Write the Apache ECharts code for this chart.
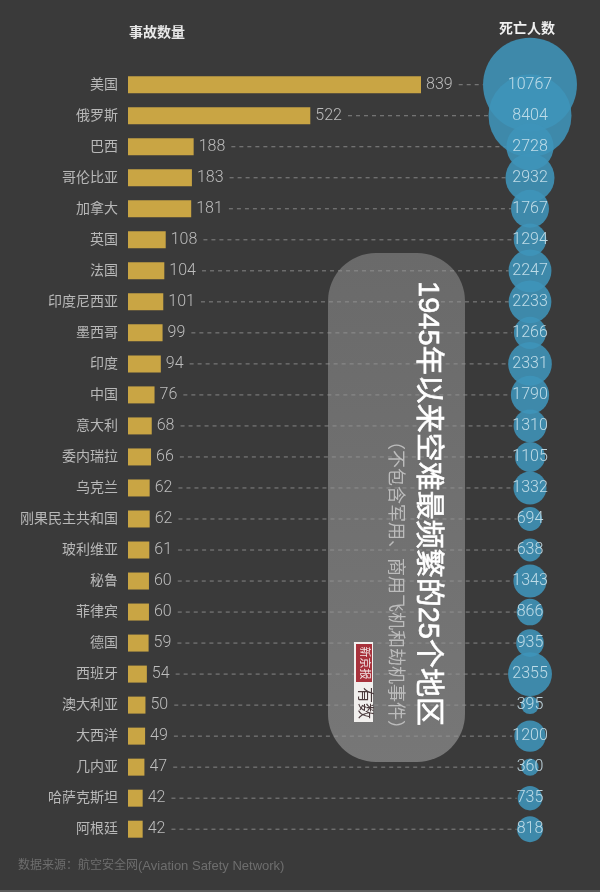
<!DOCTYPE html>
<html>
<head>
<meta charset="utf-8">
<title>1945年以来空难最频繁的25个地区</title>
<script src="https://cdn.jsdelivr.net/npm/echarts@6/dist/echarts.min.js"></script>
<style>
html, body { margin: 0; padding: 0; background: #3a3a3a; }
#main { width: 600px; height: 892px; }
</style>
</head>
<body>
<div id="main"></div>
<script>
var categories = ['美国', '俄罗斯', '巴西', '哥伦比亚', '加拿大', '英国', '法国', '印度尼西亚', '墨西哥', '印度',
    '中国', '意大利', '委内瑞拉', '乌克兰', '刚果民主共和国', '玻利维亚', '秘鲁', '菲律宾', '德国', '西班牙',
    '澳大利亚', '大西洋', '几内亚', '哈萨克斯坦', '阿根廷'];
var accidents = [839, 522, 188, 183, 181, 108, 104, 101, 99, 94, 76, 68, 66, 62, 62, 61, 60, 60, 59, 54, 50, 49, 47, 42, 42];
var deaths = [10767, 8404, 2728, 2932, 1767, 1294, 2247, 2233, 1266, 2331, 1790, 1310, 1105, 1332, 694, 638, 1343, 866, 935, 2355, 395, 1200, 360, 735, 818];
var bubbleColumn = ['死亡人数'];

var FONT = '"Liberation Sans", "Noto Sans CJK SC", sans-serif';
var NUM_FONT = 'Roboto, "Liberation Sans", sans-serif';
var BUBBLE_X = 530;
var DIGIT_W = 8.9; // 16px数字宽度

function bubbleSize(v) {
    return Math.sqrt(v) * 0.905;
}

var barData = [], lineData = [], bubbleData = [];
for (var i = 0; i < categories.length; i++) {
    barData.push(accidents[i]);
    lineData.push([accidents[i], categories[i], deaths[i]]);
    bubbleData.push([bubbleColumn[0], categories[i], deaths[i]]);
}

// 虚线：从数字右边画到气泡边缘
function renderDash(params, api) {
    var p = api.coord([api.value(0), api.value(1)]);
    var n = String(api.value(0)).length;
    var d = String(api.value(2));
    var half = Math.max(bubbleSize(api.value(2)) / 2, d.length * DIGIT_W / 2);
    return {
        type: 'line',
        shape: { x1: p[0] + 5 + n * DIGIT_W + 6, y1: p[1], x2: BUBBLE_X - half, y2: p[1] },
        style: { stroke: '#858585', lineWidth: 1, lineDash: [4, 4] }
    };
}

var myChart = echarts.init(document.getElementById('main'));
myChart.setOption({
    animation: false,
    backgroundColor: '#3a3a3a',
    grid: [
        { left: 128, top: 69.2, width: 454, height: 775.5 },
        { left: 480, top: 69.2, width: 100, height: 775.5 }
    ],
    xAxis: [
        { type: 'value', gridIndex: 0, min: 0, max: 1300, show: false },
        { type: 'category', gridIndex: 1, data: bubbleColumn, show: false }
    ],
    yAxis: [
        {
            type: 'category',
            gridIndex: 0,
            inverse: true,
            data: categories,
            axisLine: { show: false },
            axisTick: { show: false },
            axisLabel: { color: '#b8b8b8', fontSize: 14, margin: 10, fontFamily: FONT, interval: 0, padding: [2, 0, 0, 0] }
        },
        { type: 'category', gridIndex: 1, inverse: true, data: categories, show: false }
    ],
    series: [
        {
            type: 'custom',
            xAxisIndex: 0,
            yAxisIndex: 0,
            z: 1,
            silent: true,
            renderItem: renderDash,
            encode: { x: 0, y: 1 },
            data: lineData
        },
        {
            type: 'bar',
            xAxisIndex: 0,
            yAxisIndex: 0,
            z: 2,
            barWidth: 17,
            itemStyle: { color: '#c9a544' },
            label: {
                show: true,
                position: 'right',
                distance: 5,
                color: '#bdbdbd',
                fontSize: 16,
                fontWeight: 300,
                fontFamily: NUM_FONT,
                padding: [2, 0, 0, 0]
            },
            data: barData
        },
        {
            type: 'scatter',
            xAxisIndex: 1,
            yAxisIndex: 1,
            z: 3,
            encode: { x: 0, y: 1 },
            symbolSize: function (val) {
                return bubbleSize(val[2]);
            },
            itemStyle: { color: '#3f94ba', opacity: 0.88 },
            label: {
                show: true,
                position: 'inside',
                color: '#cfe6ef',
                fontSize: 16,
                fontWeight: 300,
                fontFamily: NUM_FONT,
                padding: [2, 0, 0, 0],
                formatter: function (p) {
                    return p.value[2];
                }
            },
            data: bubbleData
        }
    ],
    graphic: [
        { type: 'text', z: 10, x: 157, y: 33, style: { text: '事故数量', fill: '#e8e8e8', font: 'bold 14px ' + FONT, textAlign: 'center', textVerticalAlign: 'middle' } },
        { type: 'text', z: 10, x: 527, y: 29, style: { text: '死亡人数', fill: '#f0f0f0', font: 'bold 14px ' + FONT, textAlign: 'center', textVerticalAlign: 'middle' } },
        {
            type: 'text', z: 10, x: 18, y: 866,
            style: {
                text: '{c|数据来源：航空安全网}{l|(Aviation Safety Network)}',
                textVerticalAlign: 'middle',
                rich: {
                    c: { fill: '#6e6e6e', font: '12px ' + FONT },
                    l: { fill: '#6e6e6e', font: '13px ' + FONT }
                }
            }
        },
        {
            type: 'rect', z: 10,
            shape: { x: 328, y: 253, width: 137, height: 509, r: 48 },
            style: {
                fill: new echarts.graphic.LinearGradient(0, 0, 0, 1, [
                    { offset: 0, color: 'rgba(150,150,150,0.52)' },
                    { offset: 1, color: 'rgba(150,150,150,0.66)' }
                ])
            }
        },
        { type: 'text', z: 11, x: 427, y: 503.5, rotation: -Math.PI / 2, style: { text: '1945年以来空难最频繁的25个地区', fill: '#ffffff', stroke: '#ffffff', lineWidth: 0.6, font: '29px ' + FONT, textAlign: 'center', textVerticalAlign: 'middle' } },
        { type: 'text', z: 11, x: 395, y: 585, rotation: -Math.PI / 2, style: { text: '（不包含军用、商用飞机和劫机事件）', fill: '#bcbcbc', font: '18px ' + FONT, textAlign: 'center', textVerticalAlign: 'middle' } },
        // 报纸角标
        { type: 'rect', z: 11, shape: { x: 354, y: 642, width: 19, height: 80 }, style: { fill: '#f2f0ee' } },
        { type: 'rect', z: 12, shape: { x: 356, y: 644, width: 16, height: 38 }, style: { fill: '#a8323c' } },
        { type: 'text', z: 13, x: 364, y: 663, rotation: -Math.PI / 2, style: { text: '新京报', fill: '#f2e6e6', font: '11px ' + FONT, textAlign: 'center', textVerticalAlign: 'middle' } },
        { type: 'text', z: 13, x: 364, y: 703, rotation: -Math.PI / 2, style: { text: '有数', fill: '#4a3a3c', font: '16px ' + FONT, textAlign: 'center', textVerticalAlign: 'middle' } },
        // 底边
        { type: 'rect', z: 10, shape: { x: 0, y: 890, width: 600, height: 2 }, style: { fill: '#5a5a5a' } }
    ]
});
</script>
</body>
</html>
